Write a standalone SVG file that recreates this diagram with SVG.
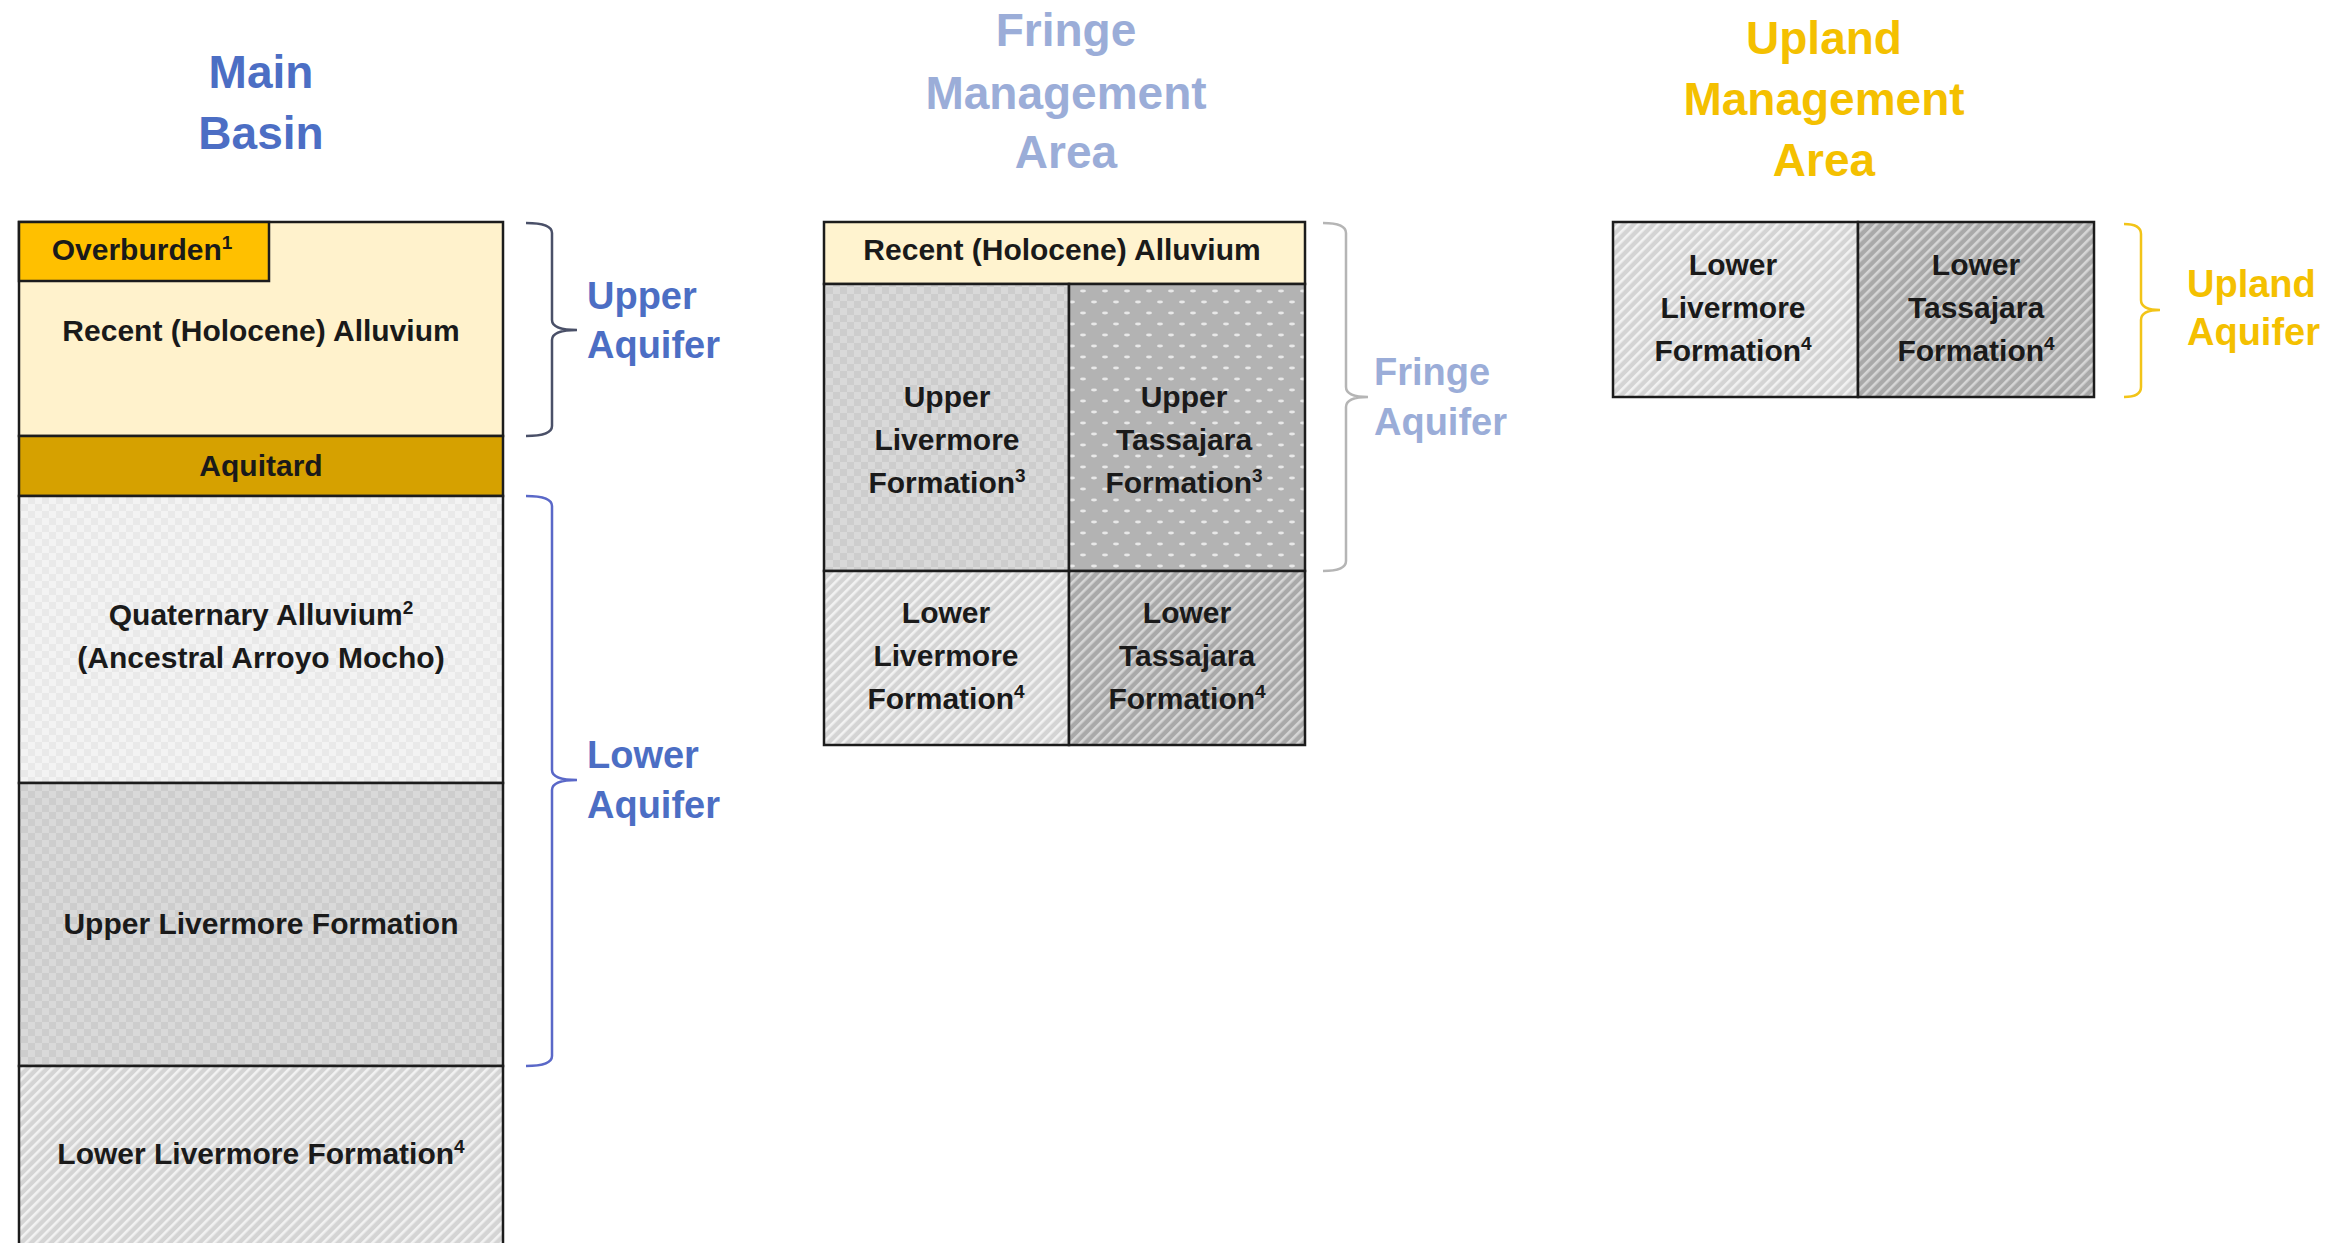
<svg xmlns="http://www.w3.org/2000/svg" width="2342" height="1243" viewBox="0 0 2342 1243">
<defs>
  <pattern id="checkLight" width="14" height="14" patternUnits="userSpaceOnUse">
    <rect width="14" height="14" fill="#e9e9e9"/>
    <rect width="7" height="7" fill="#f3f3f3"/>
    <rect x="7" y="7" width="7" height="7" fill="#f3f3f3"/>
  </pattern>
  <pattern id="checkMid" width="14" height="14" patternUnits="userSpaceOnUse">
    <rect width="14" height="14" fill="#cdcdcd"/>
    <rect width="7" height="7" fill="#d9d9d9"/>
    <rect x="7" y="7" width="7" height="7" fill="#d9d9d9"/>
  </pattern>
  <pattern id="stripeLight" width="7" height="7" patternUnits="userSpaceOnUse" patternTransform="rotate(45)">
    <rect width="7" height="7" fill="#d4d4d4"/>
    <rect x="0" y="0" width="2.6" height="7" fill="#f2f2f2"/>
  </pattern>
  <pattern id="stripeDark" width="7" height="7" patternUnits="userSpaceOnUse" patternTransform="rotate(45)">
    <rect width="7" height="7" fill="#a9a9a9"/>
    <rect x="0" y="0" width="2.6" height="7" fill="#d6d6d6"/>
  </pattern>
  <pattern id="dots" width="22" height="22" patternUnits="userSpaceOnUse">
    <rect width="22" height="22" fill="#b3b3b3"/>
    <ellipse cx="5" cy="5" rx="3" ry="1.4" fill="#e8e8e8"/>
    <ellipse cx="16" cy="16" rx="3" ry="1.4" fill="#e8e8e8"/>
  </pattern>
</defs>
<style>
  .box { stroke: #1c1c1c; stroke-width: 2.5; }
  .lbl { font-family: "Liberation Sans", Arial, sans-serif; font-weight: bold; font-size: 30px; fill: #1a1a1a; text-anchor: middle; }
  .sup { font-size: 19px; }
  .title { font-family: "Liberation Sans", Arial, sans-serif; font-weight: bold; font-size: 46px; text-anchor: middle; }
  .aq { font-family: "Liberation Sans", Arial, sans-serif; font-weight: bold; font-size: 38px; }
  .blue { fill: #4c6ec4; }
  .pale { fill: #9badd8; }
  .gold { fill: #f4c000; }
  .brace { fill: none; stroke-width: 2.5; }
</style>
<rect width="2342" height="1243" fill="#ffffff"/>

<!-- Titles -->
<g id="title-main">
  <text class="title blue" x="261" y="88">Main</text>
  <text class="title blue" x="261" y="149">Basin</text>
</g>
<g id="title-fringe">
  <text class="title pale" x="1066" y="46">Fringe</text>
  <text class="title pale" x="1066" y="109">Management</text>
  <text class="title pale" x="1066" y="168">Area</text>
</g>
<g id="title-upland">
  <text class="title gold" x="1824" y="54">Upland</text>
  <text class="title gold" x="1824" y="115">Management</text>
  <text class="title gold" x="1824" y="176">Area</text>
</g>

<!-- Main Basin column -->
<g id="main-recent">
  <rect class="box" x="19" y="222" width="484" height="214" fill="#fff2cc"/>
  <text class="lbl" x="261" y="341">Recent (Holocene) Alluvium</text>
</g>
<g id="main-overburden">
  <rect class="box" x="19" y="222" width="250" height="59" fill="#ffc000"/>
  <text class="lbl" x="142" y="260" fill="#2a1a00">Overburden<tspan class="sup" dy="-11">1</tspan></text>
</g>
<g id="main-aquitard">
  <rect class="box" x="19" y="436" width="484" height="60" fill="#d6a100"/>
  <text class="lbl" x="261" y="476">Aquitard</text>
</g>
<g id="main-quaternary">
  <rect class="box" x="19" y="496" width="484" height="287" fill="url(#checkLight)"/>
  <text class="lbl" x="261" y="625">Quaternary Alluvium<tspan class="sup" dy="-11">2</tspan></text>
  <text class="lbl" x="261" y="668">(Ancestral Arroyo Mocho)</text>
</g>
<g id="main-upper-livermore">
  <rect class="box" x="19" y="783" width="484" height="283" fill="url(#checkMid)"/>
  <text class="lbl" x="261" y="934">Upper Livermore Formation</text>
</g>
<g id="main-lower-livermore">
  <rect class="box" x="19" y="1066" width="484" height="200" fill="url(#stripeLight)"/>
  <text class="lbl" x="261" y="1164">Lower Livermore Formation<tspan class="sup" dy="-11">4</tspan></text>
</g>

<!-- Fringe column -->
<g id="fringe-recent">
  <rect class="box" x="824" y="222" width="481" height="62" fill="#fff3cf"/>
  <text class="lbl" x="1062" y="260">Recent (Holocene) Alluvium</text>
</g>
<g id="fringe-upper-livermore">
  <rect class="box" x="824" y="284" width="245" height="287" fill="url(#checkMid)"/>
  <text class="lbl" x="947" y="407">Upper</text>
  <text class="lbl" x="947" y="450">Livermore</text>
  <text class="lbl" x="947" y="493">Formation<tspan class="sup" dy="-11">3</tspan></text>
</g>
<g id="fringe-upper-tassajara">
  <rect class="box" x="1069" y="284" width="236" height="287" fill="url(#dots)"/>
  <text class="lbl" x="1184" y="407">Upper</text>
  <text class="lbl" x="1184" y="450">Tassajara</text>
  <text class="lbl" x="1184" y="493">Formation<tspan class="sup" dy="-11">3</tspan></text>
</g>
<g id="fringe-lower-livermore">
  <rect class="box" x="824" y="571" width="245" height="174" fill="url(#stripeLight)"/>
  <text class="lbl" x="946" y="623">Lower</text>
  <text class="lbl" x="946" y="666">Livermore</text>
  <text class="lbl" x="946" y="709">Formation<tspan class="sup" dy="-11">4</tspan></text>
</g>
<g id="fringe-lower-tassajara">
  <rect class="box" x="1069" y="571" width="236" height="174" fill="url(#stripeDark)"/>
  <text class="lbl" x="1187" y="623">Lower</text>
  <text class="lbl" x="1187" y="666">Tassajara</text>
  <text class="lbl" x="1187" y="709">Formation<tspan class="sup" dy="-11">4</tspan></text>
</g>

<!-- Upland column -->
<g id="upland-lower-livermore">
  <rect class="box" x="1613" y="222" width="245" height="175" fill="url(#stripeLight)"/>
  <text class="lbl" x="1733" y="275">Lower</text>
  <text class="lbl" x="1733" y="318">Livermore</text>
  <text class="lbl" x="1733" y="361">Formation<tspan class="sup" dy="-11">4</tspan></text>
</g>
<g id="upland-lower-tassajara">
  <rect class="box" x="1858" y="222" width="236" height="175" fill="url(#stripeDark)"/>
  <text class="lbl" x="1976" y="275">Lower</text>
  <text class="lbl" x="1976" y="318">Tassajara</text>
  <text class="lbl" x="1976" y="361">Formation<tspan class="sup" dy="-11">4</tspan></text>
</g>

<!-- Aquifer labels -->
<g id="label-upper-aquifer">
  <text class="aq blue" x="587" y="309">Upper</text>
  <text class="aq blue" x="587" y="358">Aquifer</text>
</g>
<g id="label-lower-aquifer">
  <text class="aq blue" x="587" y="768">Lower</text>
  <text class="aq blue" x="587" y="818">Aquifer</text>
</g>
<g id="label-fringe-aquifer">
  <text class="aq pale" x="1374" y="385">Fringe</text>
  <text class="aq pale" x="1374" y="435">Aquifer</text>
</g>
<g id="label-upland-aquifer">
  <text class="aq gold" x="2187" y="297">Upland</text>
  <text class="aq gold" x="2187" y="345">Aquifer</text>
</g>

<!-- Braces -->
<g id="connectors">
  <path class="brace" stroke="#4a5068" d="M526,223 Q552,223 552,233 V320 Q552,330 577,330 Q552,330 552,340 V426 Q552,436 526,436"/>
  <path class="brace" stroke="#5a68c8" d="M526,496 Q552,496 552,506 V770 Q552,780 577,780 Q552,780 552,790 V1056 Q552,1066 526,1066"/>
  <path class="brace" stroke="#b5b5b5" d="M1323,223 Q1346,223 1346,233 V387 Q1346,397 1368,397 Q1346,397 1346,407 V561 Q1346,571 1323,571"/>
  <path class="brace" stroke="#f2c418" d="M2124,224 Q2141,224 2141,234 V300 Q2141,310 2160,310 Q2141,310 2141,320 V387 Q2141,397 2124,397"/>
</g>
</svg>
